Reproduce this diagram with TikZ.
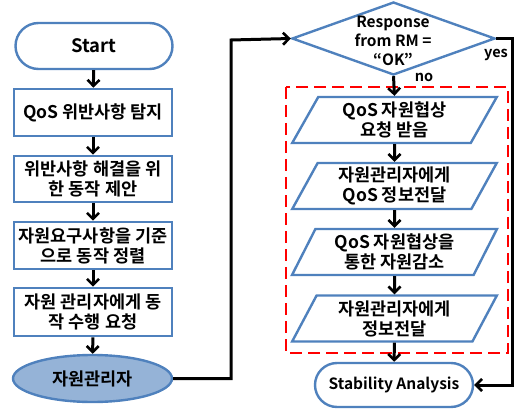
\documentclass[tikz,border=0pt]{standalone}
\usepackage{fontspec}
\setmainfont{Noto Sans CJK KR}[BoldFont={Noto Sans CJK KR Bold}]
\usetikzlibrary{shapes.geometric,shapes.misc,arrows.meta}
\definecolor{bord}{HTML}{4F81BD}
\definecolor{ellfill}{HTML}{95B3D7}
\begin{document}
\begin{tikzpicture}[x=1pt,y=-1pt,
  every node/.style={font=\bfseries\fontsize{17.5}{20}\selectfont, align=center, inner sep=0pt},
  procbox/.style={draw=bord, line width=2.6pt, fill=white, minimum width=158, rectangle},
  term/.style={draw=bord, line width=2.4pt, fill=white, rounded rectangle},
  iobox/.style={draw=bord, line width=2.4pt, fill=white, trapezium, trapezium left angle=64, trapezium right angle=116, trapezium stretches=true, minimum width=205, minimum height=46},
  conn/.style={draw=black, line width=3pt, -{Straight Barb[length=6pt,width=12pt,line width=2.6pt]}}
]
\useasboundingbox (0,0) rectangle (514,409);
% left column
\node[term, minimum width=157, minimum height=46, font=\bfseries\fontsize{18.5}{20}\selectfont] (start) at (94,46) {Start};
\node[procbox, minimum height=47] (b1) at (93,112.5) {QoS 위반사항 탐지};
\node[procbox, minimum height=46] (b2) at (93,179) {위반사항 해결을 위\\한 동작 제안};
\node[procbox, minimum height=47] (b3) at (93,245.5) {자원요구사항을 기준\\으로 동작 정렬};
\node[procbox, minimum height=48] (b4) at (93,312) {자원 관리자에게 동\\작 수행 요청};
\node[ellipse, draw=bord, line width=2.4pt, fill=ellfill, minimum width=159, minimum height=47] (ell) at (92.5,378.5) {자원관리자};
% right column
\draw[red, line width=2.6pt, dash pattern=on 12pt off 6pt] (286,87) rectangle (508,353);
\node[diamond, draw=bord, line width=2.4pt, minimum width=203, minimum height=73] (dia) at (393.5,38.5) {};
\node[font=\bfseries\fontsize{15.5}{19}\selectfont] (diatext) at (393,41) {Response\\from RM =\\“OK”};
\node[iobox] (p1) at (394.5,120) {QoS 자원협상\\요청 받음};
\node[iobox] (p2) at (394.5,186) {자원관리자에게\\QoS 정보전달};
\node[iobox] (p3) at (394.5,252) {QoS 자원협상을\\통한 자원감소};
\node[iobox] (p4) at (394.5,318.5) {자원관리자에게\\정보전달};
\node[term, minimum width=158, minimum height=44, font=\bfseries\fontsize{15.5}{20}\selectfont] (stab) at (394,385) {Stability Analysis};
\node[font=\bfseries\fontsize{14.5}{15}\selectfont] (yes) at (496,55) {yes};
\node[font=\bfseries\fontsize{14.5}{15}\selectfont] (no) at (424,77) {no};
\coordinate (c1) at (231,378.5);
\coordinate (c2) at (231,40);
\coordinate (c3) at (512.5,38.5);
\coordinate (c4) at (512.5,385);
% connectors
\draw[conn] (start) -- (b1);
\draw[conn] (b1) -- (b2);
\draw[conn] (b2) -- (b3);
\draw[conn] (b3) -- (b4);
\draw[conn] (b4) -- (ell);
\draw[conn] (ell.east) -- (c1) -- (c2) -- (dia.west);
\draw[conn] (dia.south) -- (p1.north);
\draw[conn] (p1) -- (p2);
\draw[conn] (p2) -- (p3);
\draw[conn] (p3) -- (p4);
\draw[conn] (p4) -- (stab);
\draw[conn] (dia.east) -- (c3) -- (c4) -- (stab.east);
\end{tikzpicture}
\end{document}
